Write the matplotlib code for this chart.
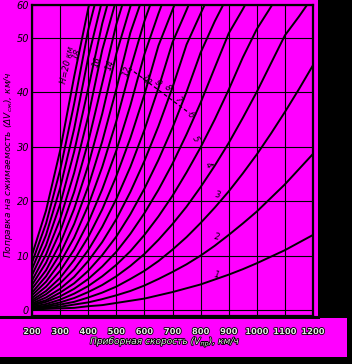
import numpy as np
import matplotlib
matplotlib.use("Agg")
import matplotlib.pyplot as plt
import matplotlib.patheffects as pe
from matplotlib.patches import Polygon

# indicated speed grid, km/h
speeds = [200, 250, 300, 350, 400, 450, 500, 550, 600, 650, 700,
          750, 800, 850, 900, 950, 1000, 1050, 1100, 1150, 1200]

# compressibility correction dV (km/h) per altitude H (km)
dv_h1 = [0.1, 0.2, 0.3, 0.4, 0.7, 0.9, 1.3, 1.7, 2.1, 2.7, 3.3, 4.0, 4.7, 5.6, 6.5, 7.5, 8.6, 9.8, 11.0, 12.4, 13.8]
dv_h2 = [0.2, 0.4, 0.6, 1.0, 1.4, 2.0, 2.7, 3.5, 4.5, 5.7, 7.0, 8.4, 10.0, 11.8, 13.8, 15.9, 18.1, 20.6, 23.1, 25.9, 28.7]
dv_h3 = [0.3, 0.6, 1.0, 1.5, 2.3, 3.2, 4.3, 5.7, 7.2, 9.0, 11.1, 13.4, 16.0, 18.8, 21.8, 25.1, 28.6, 32.4, 36.4, 40.6, 45.0]
dv_h4 = [0.4, 0.8, 1.4, 2.2, 3.3, 4.6, 6.2, 8.1, 10.3, 12.9, 15.8, 19.0, 22.6, 26.5, 30.7, 35.3, 40.1, 45.3, 50.8, 56.5, 62.6]
dv_h5 = [0.6, 1.1, 1.9, 3.0, 4.4, 6.2, 8.3, 10.8, 13.8, 17.2, 21.0, 25.3, 29.9, 35.0, 40.5, 46.4, 52.7, 59.4, 66.4]
dv_h6 = [0.8, 1.5, 2.5, 3.9, 5.7, 8.0, 10.7, 14.0, 17.8, 22.1, 26.9, 32.3, 38.1, 44.5, 51.4, 58.7, 66.5]
dv_h7 = [1.0, 1.8, 3.2, 4.9, 7.2, 10.1, 13.5, 17.6, 22.3, 27.6, 33.5, 40.1, 47.3, 55.0, 63.3]
dv_h8 = [1.2, 2.3, 3.9, 6.1, 9.0, 12.5, 16.7, 21.7, 27.4, 33.8, 40.9, 48.8, 57.4, 66.6]
dv_h9 = [1.5, 2.9, 4.9, 7.5, 11.0, 15.3, 20.4, 26.3, 33.1, 40.8, 49.2, 58.5, 68.6]
dv_h10 = [1.8, 3.5, 5.9, 9.2, 13.4, 18.5, 24.6, 31.6, 39.6, 48.6, 58.5, 69.3]
dv_h11 = [2.2, 4.3, 7.2, 11.1, 16.1, 22.2, 29.3, 37.6, 47.0, 57.4, 68.8]
dv_h12 = [2.7, 5.2, 8.7, 13.3, 19.2, 26.3, 34.7, 44.3, 55.1, 67.0]
dv_h13 = [3.2, 6.2, 10.3, 15.8, 22.7, 31.0, 40.6, 51.6, 63.9]
dv_h14 = [3.9, 7.3, 12.2, 18.6, 26.6, 36.1, 47.1, 59.5, 73.3]
dv_h15 = [4.6, 8.7, 14.4, 21.7, 30.9, 41.7, 54.1, 68.0]
dv_h16 = [5.4, 10.2, 16.7, 25.2, 35.6, 47.8, 61.7]
dv_h17 = [6.4, 11.9, 19.4, 29.1, 40.7, 54.4, 69.8]
dv_h18 = [7.5, 13.8, 22.4, 33.3, 46.4, 61.5]
dv_h19 = [8.7, 15.9, 25.7, 37.9, 52.4, 69.0]
dv_h20 = [10.1, 18.3, 29.3, 42.9, 58.9, 77.0]

curves = [dv_h1, dv_h2, dv_h3, dv_h4, dv_h5, dv_h6, dv_h7, dv_h8, dv_h9, dv_h10,
          dv_h11, dv_h12, dv_h13, dv_h14, dv_h15, dv_h16, dv_h17, dv_h18, dv_h19, dv_h20]

xticks = [200, 300, 400, 500, 600, 700, 800, 900, 1000, 1100, 1200]
yticks = [0, 10, 20, 30, 40, 50, 60]

# curve labels: text, speed, dV, rotation
curve_labels = [
    ("H=20 км", 328, 45, 78),
    ("18", 360, 47, 70),
    ("16", 431, 45.6, 70),
    ("14", 478, 45, 70),
    ("12", 538, 44, 70),
    ("10", 606, 42.3, -55),
    ("9", 645, 41.7, -55),
    ("8", 680, 40.8, -55),
    ("7", 720, 38.6, -55),
    ("6", 762, 35.8, -55),
    ("5", 780, 31.4, -60),
    ("4", 826, 26.7, -60),
    ("3", 862, 21.1, -10),
    ("2", 858, 13.4, -10),
    ("1", 858, 6.4, -10),
]
leader_x = [545, 760]
leader_y = [44.5, 36.2]

MAG = "#ff00ff"


def fwd(v):
    v = np.asarray(v, dtype=float)
    return np.where(v <= 50, v, 50 + (v - 50) * 0.607)


def inv(u):
    u = np.asarray(u, dtype=float)
    return np.where(u <= 50, u, 50 + (u - 50) / 0.607)


W, Hh = 352, 364
fig = plt.figure(figsize=(W / 100, Hh / 100), dpi=100, facecolor="black")

# magenta paper area (pixel coords, origin top-left)
paper = [(0, 0), (318, 0), (318, 318), (347, 318), (347, 357), (0, 357)]
fig.patches.append(Polygon([(x / W, 1 - y / Hh) for x, y in paper],
                           closed=True, transform=fig.transFigure,
                           facecolor=MAG, edgecolor="none", zorder=-10))
# thick bottom rule
fig.add_artist(plt.Line2D([0, 318 / W], [1 - 316.5 / Hh, 1 - 316.5 / Hh],
                          transform=fig.transFigure, color="black", lw=2.2,
                          zorder=5))

ax = fig.add_axes([32 / W, (Hh - 316) / Hh, 281 / W, 311 / Hh])
ax.set_zorder(2)
ax.set_facecolor(MAG)
ax.set_yscale("function", functions=(fwd, inv))

for dv in curves:
    ax.plot(speeds[:len(dv)], dv, color="black", lw=1.4, solid_capstyle="round")

ax.plot(leader_x, leader_y, color="black", lw=0.9, ls=(0, (3, 2)))

for txt, vx, vy, rot in curve_labels:
    ax.text(vx, vy, txt, fontsize=6, style="italic", rotation=rot,
            ha="center", va="center", color="black")

ax.set_xlim(200, 1200)
ax.set_ylim(-1.1, 60)
ax.set_xticks(xticks)
ax.set_yticks(yticks)
ax.grid(True, color="black", lw=0.8)
for s in ax.spines.values():
    s.set_color("black")
    s.set_linewidth(1.6)

ax.tick_params(length=0)
ax.set_yticklabels([str(t) for t in yticks], fontsize=7, style="italic")
ax.tick_params(axis="y", pad=2)
ax.set_xticklabels([str(t) for t in xticks], fontsize=6, fontweight="bold",
                   color="#e8e8e8")
ax.tick_params(axis="x", pad=8)
for lab in ax.get_xticklabels():
    lab.set_path_effects([pe.withStroke(linewidth=1.2, foreground="black")])

fig.text(9 / W, 1 - 165 / Hh, "Поправка на сжимаемость (ΔV$_{сж}$), км/ч",
         rotation=90, ha="center", va="center", fontsize=6.5, style="italic",
         color="black")
fig.text(165 / W, 1 - 342 / Hh, "Приборная скорость (V$_{пр}$), км/ч",
         ha="center", va="center", fontsize=6.5, style="italic", color="#e8e8e8",
         path_effects=[pe.withStroke(linewidth=1.2, foreground="black")])

fig.savefig("out.png", dpi=100, facecolor=fig.get_facecolor())
